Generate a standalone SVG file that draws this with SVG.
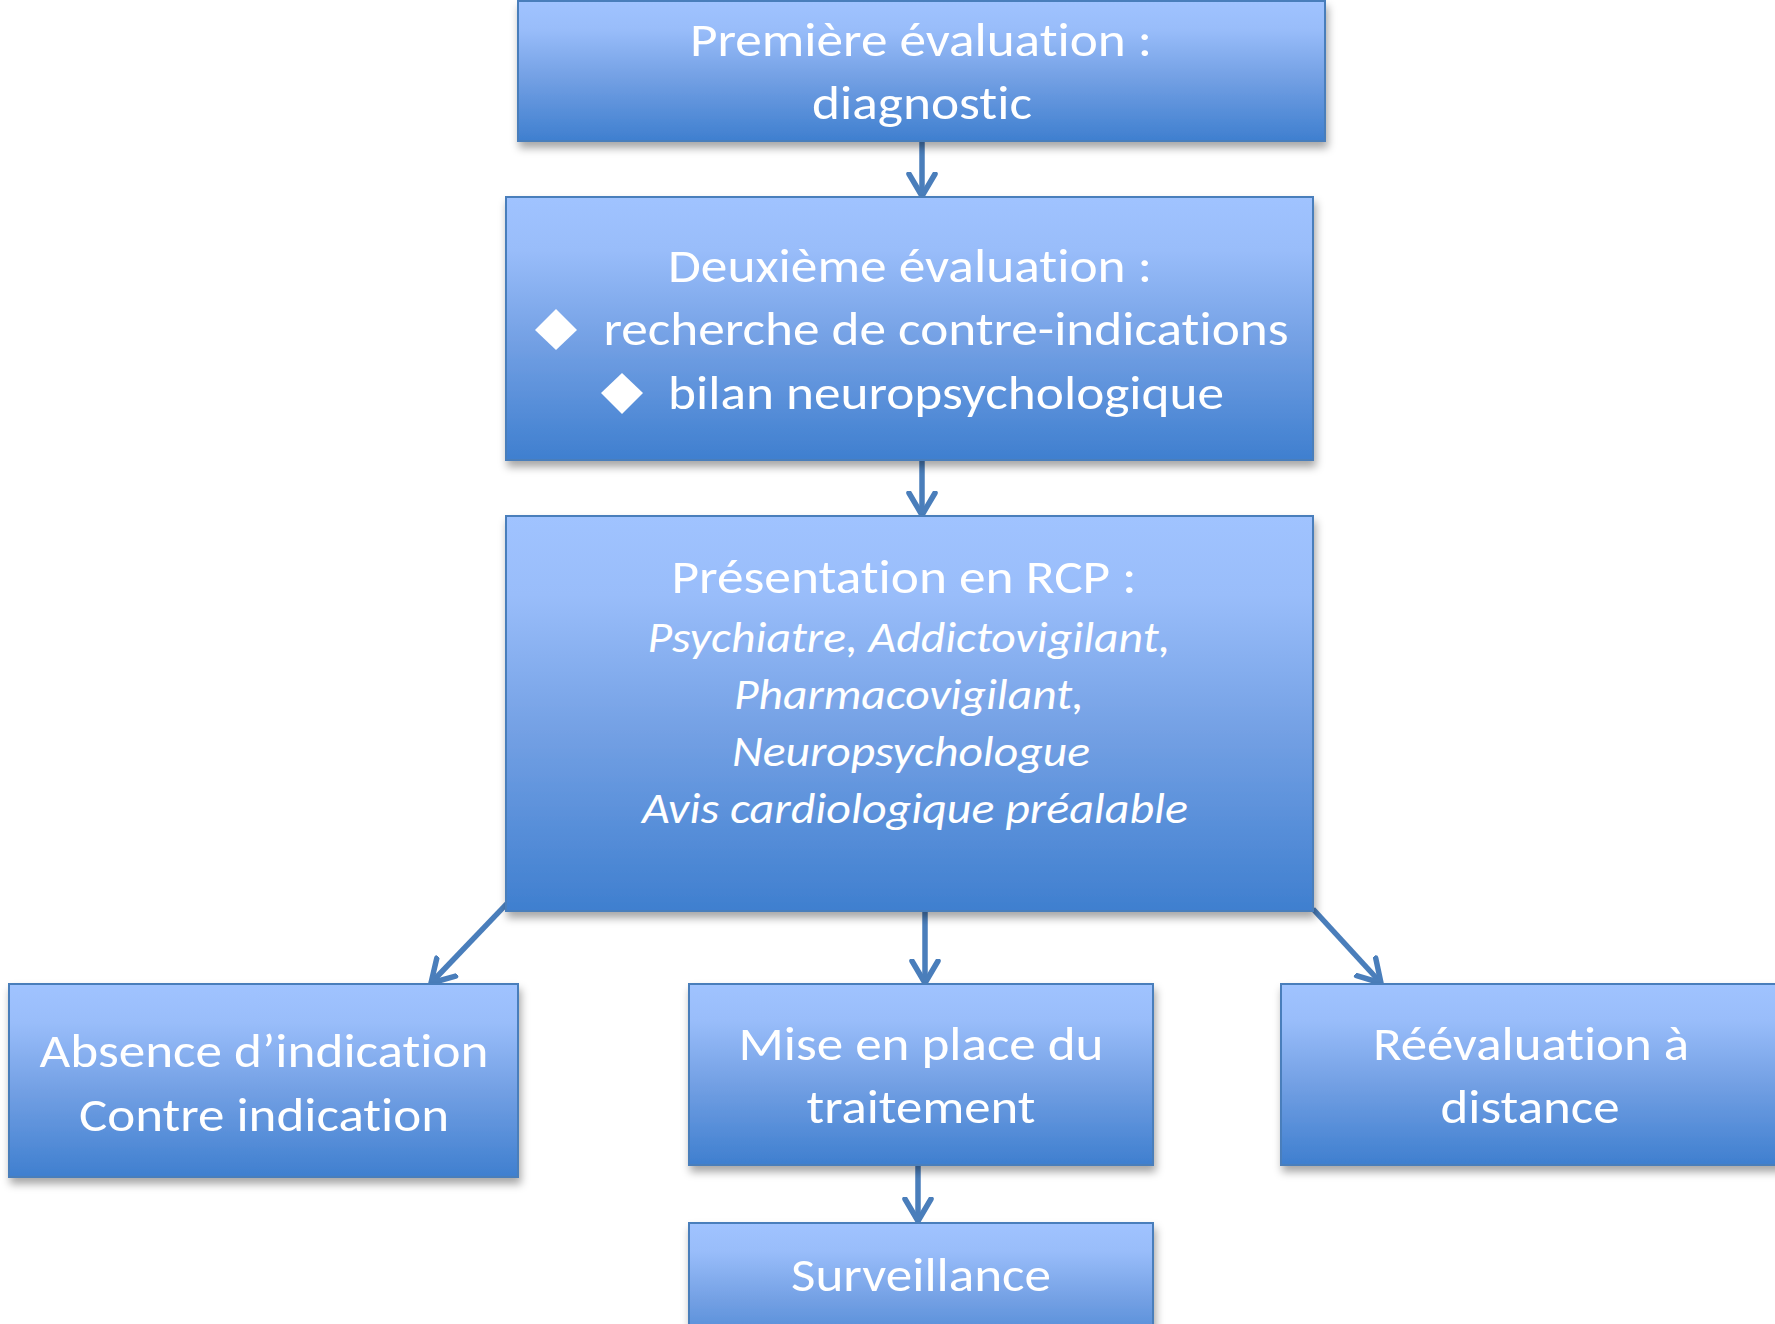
<svg xmlns="http://www.w3.org/2000/svg" width="1775" height="1324" viewBox="0 0 1775 1324">
<defs>
<linearGradient id="g" x1="0" y1="0" x2="0" y2="1">
<stop offset="0" stop-color="#a0c3ff"/>
<stop offset="0.2" stop-color="#99bdfa"/>
<stop offset="0.55" stop-color="#73a0e4"/>
<stop offset="1" stop-color="#3f7fcf"/>
</linearGradient>
<filter id="sh" x="-5%" y="-5%" width="115%" height="125%">
<feDropShadow dx="2" dy="6" stdDeviation="4" flood-color="#000" flood-opacity="0.35"/>
</filter>
<marker id="ah" markerUnits="userSpaceOnUse" markerWidth="40" markerHeight="40" refX="24" refY="20" orient="auto" viewBox="0 0 40 40">
<path d="M2,7 L24,20 L2,33" fill="none" stroke="#4a7ebb" stroke-width="5.5" stroke-linecap="round" stroke-linejoin="round"/>
</marker>
</defs>
<style>
.box{fill:url(#g);stroke:#4a7ebb;stroke-width:2;filter:url(#sh)}
.t{font-family:Carlito,"Open Sans","Liberation Sans",sans-serif;font-size:47px;fill:#fff;text-anchor:middle;font-variant-ligatures:none;font-feature-settings:"liga" 0,"clig" 0}
.i{font-style:italic;font-size:44px}
.c{stroke:#4a7ebb;stroke-width:5.5;fill:none;marker-end:url(#ah)}
</style>
<g id="connectors">
<line class="c" x1="922" y1="141" x2="922" y2="196"/>
<line class="c" x1="922" y1="460" x2="922" y2="515"/>
<line class="c" x1="518" y1="892" x2="431" y2="983"/>
<line class="c" x1="925" y1="893" x2="925" y2="983"/>
<line class="c" x1="1313" y1="909" x2="1381" y2="983"/>
<line class="c" x1="918" y1="1166" x2="918" y2="1221"/>
</g>
<g id="n1">
<rect class="box" x="518" y="1" width="807" height="140"/>
<text class="t" x="921" y="56" textLength="462" lengthAdjust="spacingAndGlyphs">Première évaluation :</text>
<text class="t" x="922" y="119" textLength="220" lengthAdjust="spacingAndGlyphs">diagnostic</text>
</g>
<g id="n2">
<rect class="box" x="506" y="197" width="807" height="263"/>
<text class="t" x="910" y="282" textLength="484" lengthAdjust="spacingAndGlyphs">Deuxième évaluation :</text>
<polygon points="556,309 577,330 556,350 535,330" fill="#fff"/>
<text class="t" x="946" y="345" textLength="685" lengthAdjust="spacingAndGlyphs">recherche de contre-indications</text>
<polygon points="622,373 643,393 622,414 601,393" fill="#fff"/>
<text class="t" x="946" y="409" textLength="556" lengthAdjust="spacingAndGlyphs">bilan neuropsychologique</text>
</g>
<g id="n3">
<rect class="box" x="506" y="516" width="807" height="395"/>
<text class="t" x="904" y="593" textLength="465" lengthAdjust="spacingAndGlyphs">Présentation en RCP :</text>
<text class="t i" x="909" y="652" textLength="523" lengthAdjust="spacingAndGlyphs">Psychiatre, Addictovigilant,</text>
<text class="t i" x="909" y="709" textLength="350" lengthAdjust="spacingAndGlyphs">Pharmacovigilant,</text>
<text class="t i" x="911" y="766" textLength="358" lengthAdjust="spacingAndGlyphs">Neuropsychologue</text>
<text class="t i" x="915" y="823" textLength="546" lengthAdjust="spacingAndGlyphs">Avis cardiologique préalable</text>
</g>
<g id="n4">
<rect class="box" x="9" y="984" width="509" height="193"/>
<text class="t" x="264" y="1067" textLength="449" lengthAdjust="spacingAndGlyphs">Absence d’indication</text>
<text class="t" x="264" y="1131" textLength="370" lengthAdjust="spacingAndGlyphs">Contre indication</text>
</g>
<g id="n5">
<rect class="box" x="689" y="984" width="464" height="181"/>
<text class="t" x="921" y="1060" textLength="365" lengthAdjust="spacingAndGlyphs">Mise en place du</text>
<text class="t" x="921" y="1123" textLength="229" lengthAdjust="spacingAndGlyphs">traitement</text>
</g>
<g id="n6">
<rect class="box" x="1281" y="984" width="520" height="181"/>
<text class="t" x="1531" y="1060" textLength="316" lengthAdjust="spacingAndGlyphs">Réévaluation à</text>
<text class="t" x="1530" y="1123" textLength="179" lengthAdjust="spacingAndGlyphs">distance</text>
</g>
<g id="n7">
<rect class="box" x="689" y="1223" width="464" height="140"/>
<text class="t" x="921" y="1291" textLength="260" lengthAdjust="spacingAndGlyphs">Surveillance</text>
</g>
</svg>
